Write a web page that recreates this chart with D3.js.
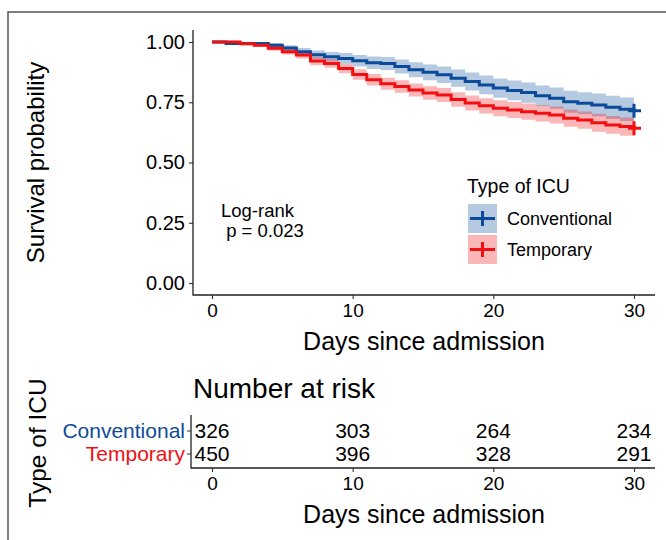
<!DOCTYPE html>
<html>
<head>
<meta charset="utf-8">
<script src="https://cdn.jsdelivr.net/npm/d3@7"></script>
<style>
  body { margin: 0; background: #fff; }
  svg text { font-family: "Liberation Sans", Arial, sans-serif; }
</style>
</head>
<body>
<div id="chart"></div>
<script>
const days = d3.range(0, 31);
const groups = ["Conventional", "Temporary"];
const groupColors = ["#0B4B9A", "#F20F12"];

// Kaplan-Meier estimates, one value per day 0..30
const convSurv = [1.000, 0.994, 0.994, 0.994, 0.987, 0.975, 0.960, 0.947, 0.939, 0.932,
  0.922, 0.914, 0.911, 0.898, 0.885, 0.874, 0.864, 0.850, 0.836, 0.822,
  0.809, 0.799, 0.790, 0.777, 0.767, 0.752, 0.746, 0.739, 0.729, 0.721, 0.715];
const convUpper = [1.000, 1.000, 1.000, 1.000, 0.996, 0.987, 0.975, 0.965, 0.959, 0.954,
  0.946, 0.940, 0.938, 0.927, 0.916, 0.907, 0.898, 0.886, 0.873, 0.861,
  0.849, 0.840, 0.832, 0.820, 0.811, 0.798, 0.792, 0.786, 0.777, 0.770, 0.767];
const convLower = [1.000, 0.988, 0.988, 0.988, 0.978, 0.963, 0.945, 0.929, 0.919, 0.910,
  0.898, 0.888, 0.884, 0.869, 0.854, 0.841, 0.830, 0.814, 0.799, 0.783,
  0.769, 0.758, 0.748, 0.734, 0.723, 0.706, 0.700, 0.692, 0.681, 0.672, 0.667];

const tempSurv = [1.000, 1.000, 0.993, 0.987, 0.974, 0.960, 0.946, 0.921, 0.911, 0.890,
  0.865, 0.843, 0.827, 0.815, 0.801, 0.788, 0.780, 0.761, 0.747, 0.735,
  0.725, 0.718, 0.711, 0.704, 0.697, 0.684, 0.676, 0.665, 0.656, 0.649, 0.642];
const tempUpper = [1.000, 1.000, 0.999, 0.995, 0.984, 0.972, 0.960, 0.938, 0.929, 0.910,
  0.887, 0.867, 0.852, 0.841, 0.828, 0.816, 0.809, 0.791, 0.778, 0.767,
  0.758, 0.751, 0.745, 0.738, 0.732, 0.720, 0.712, 0.702, 0.693, 0.687, 0.682];
const tempLower = [1.000, 1.000, 0.987, 0.979, 0.964, 0.948, 0.932, 0.904, 0.893, 0.870,
  0.843, 0.819, 0.802, 0.789, 0.774, 0.760, 0.751, 0.731, 0.716, 0.703,
  0.692, 0.685, 0.677, 0.670, 0.662, 0.648, 0.640, 0.628, 0.619, 0.611, 0.604];

const riskTimes = [0, 10, 20, 30];
const convRisk = [326, 303, 264, 234];
const tempRisk = [450, 396, 328, 291];

const yTicks = [0, 0.25, 0.5, 0.75, 1];
const pText = ["Log-rank", " p = 0.023"];

const width = 666, height = 540;
const svg = d3.select("#chart").append("svg")
  .attr("width", width)
  .attr("height", height);

// outer frame (only top and left edges show in the crop)
svg.append("path")
  .attr("d", `M8,540 L8,12 L666,12`)
  .attr("fill", "none")
  .attr("stroke", "#555")
  .attr("stroke-width", 1.5);

const x = d3.scaleLinear().domain([0, 30]).range([212, 634]);
const y = d3.scaleLinear().domain([0, 1]).range([283, 42]);
const panel = { left: 193, right: 655, top: 30, bottom: 295 };

const series = [
  { name: groups[0], color: groupColors[0], s: convSurv, lo: convLower, hi: convUpper },
  { name: groups[1], color: groupColors[1], s: tempSurv, lo: tempLower, hi: tempUpper }
];

const area = d3.area()
  .curve(d3.curveStepAfter)
  .x((d, i) => x(days[i]))
  .y0(d => y(d[0]))
  .y1(d => y(d[1]));
const line = d3.line()
  .curve(d3.curveStepAfter)
  .x((d, i) => x(days[i]))
  .y(d => y(d));

series.forEach(g => {
  svg.append("path")
    .datum(g.lo.map((v, i) => [v, g.hi[i]]))
    .attr("d", area)
    .attr("fill", g.color)
    .attr("fill-opacity", 0.3);
});
series.forEach(g => {
  svg.append("path")
    .datum(g.s)
    .attr("d", line)
    .attr("fill", "none")
    .attr("stroke", g.color)
    .attr("stroke-width", 3);
  // censor mark at the end of follow-up
  const cx = x(days[days.length - 1]), cy = y(g.s[g.s.length - 1]);
  svg.append("path")
    .attr("d", `M${cx - 6},${cy} L${cx + 7},${cy} M${cx},${cy - 7} L${cx},${cy + 7}`)
    .attr("stroke", g.color)
    .attr("stroke-width", 3);
});

// axes of the survival panel
const axisStyle = size => sel => {
  sel.select(".domain").remove();
  sel.selectAll("line").attr("stroke", "#333").attr("stroke-width", 1.1);
  sel.selectAll("text").style("fill", "#000").style("font-size", size)
    .style("font-family", "'Liberation Sans', Arial, sans-serif");
};

svg.append("g")
  .attr("transform", `translate(${panel.left},0)`)
  .call(d3.axisLeft(y).tickValues(yTicks).tickFormat(d3.format(".2f")).tickSize(4).tickPadding(4))
  .call(axisStyle("20px"));
svg.append("g")
  .attr("transform", `translate(0,${panel.bottom})`)
  .call(d3.axisBottom(x).tickValues(riskTimes).tickSize(4).tickPadding(5))
  .call(axisStyle("19px"));
svg.append("path")
  .attr("d", `M${panel.left},${panel.top} L${panel.left},${panel.bottom} L${panel.right},${panel.bottom}`)
  .attr("fill", "none")
  .attr("stroke", "#222")
  .attr("stroke-width", 1.3);

svg.append("text")
  .attr("transform", `translate(44,${(panel.top + panel.bottom) / 2}) rotate(-90)`)
  .attr("text-anchor", "middle")
  .style("font-size", "24px")
  .text("Survival probability");
svg.append("text")
  .attr("x", (panel.left + panel.right) / 2)
  .attr("y", 350)
  .attr("text-anchor", "middle")
  .style("font-size", "25px")
  .text("Days since admission");

// log-rank annotation
svg.append("text")
  .attr("x", 221).attr("y", 217)
  .style("font-size", "18.5px")
  .selectAll("tspan")
  .data(pText)
  .join("tspan")
  .attr("x", 221)
  .attr("dy", (d, i) => i ? 20 : 0)
  .attr("xml:space", "preserve")
  .text(d => d);

// legend
const legend = svg.append("g").attr("transform", "translate(467,0)");
legend.append("text")
  .attr("x", 0).attr("y", 193)
  .style("font-size", "19.5px")
  .text("Type of ICU");
series.forEach((g, i) => {
  const ky = 204 + i * 31;
  legend.append("rect")
    .attr("x", 1).attr("y", ky).attr("width", 29).attr("height", 29)
    .attr("fill", g.color).attr("fill-opacity", 0.3);
  legend.append("path")
    .attr("d", `M3,${ky + 14.5} L28,${ky + 14.5} M15.5,${ky + 7} L15.5,${ky + 22}`)
    .attr("stroke", g.color)
    .attr("stroke-width", 3);
  legend.append("text")
    .attr("x", 40).attr("y", ky + 21)
    .style("font-size", "18px")
    .text(g.name);
});

// risk table
svg.append("text")
  .attr("x", 193).attr("y", 398)
  .style("font-size", "28px")
  .text("Number at risk");

const rowY = d3.scalePoint().domain(groups).range([430.5, 453.5]);
const tablePanel = { left: 191, right: 655, top: 415, bottom: 468 };

const riskRows = [convRisk, tempRisk];
riskRows.forEach((row, r) => {
  svg.append("g")
    .selectAll("text")
    .data(row)
    .join("text")
    .attr("x", (d, i) => x(riskTimes[i]))
    .attr("y", rowY(groups[r]) + 7.5)
    .attr("text-anchor", "middle")
    .style("font-size", "21px")
    .text(d => d);
});

svg.append("g")
  .attr("transform", `translate(${tablePanel.left},0)`)
  .call(d3.axisLeft(rowY).tickSize(4).tickPadding(2))
  .call(sel => {
    sel.select(".domain").remove();
    sel.selectAll("line").attr("stroke", "#333");
    sel.selectAll("text")
      .style("font-size", "21px")
      .style("font-family", "'Liberation Sans', Arial, sans-serif")
      .style("fill", (d, i) => groupColors[i]);
  });
svg.append("g")
  .attr("transform", `translate(0,${tablePanel.bottom})`)
  .call(d3.axisBottom(x).tickValues(riskTimes).tickSize(4).tickPadding(5))
  .call(axisStyle("19px"));
svg.append("path")
  .attr("d", `M${tablePanel.left},${tablePanel.top} L${tablePanel.left},${tablePanel.bottom} L${tablePanel.right},${tablePanel.bottom}`)
  .attr("fill", "none")
  .attr("stroke", "#222")
  .attr("stroke-width", 1.3);

svg.append("text")
  .attr("transform", `translate(46,443) rotate(-90)`)
  .attr("text-anchor", "middle")
  .style("font-size", "24.5px")
  .text("Type of ICU");
svg.append("text")
  .attr("x", (tablePanel.left + tablePanel.right) / 2 + 1)
  .attr("y", 523)
  .attr("text-anchor", "middle")
  .style("font-size", "25px")
  .text("Days since admission");
</script>
</body>
</html>
